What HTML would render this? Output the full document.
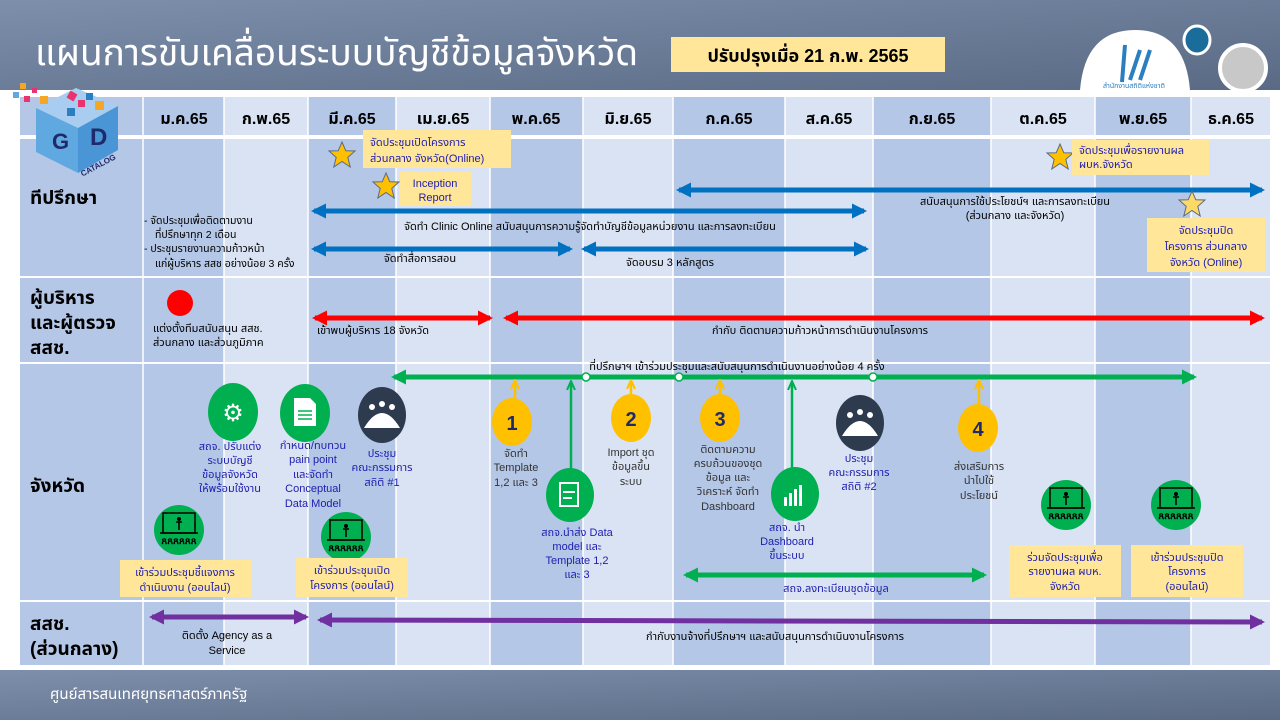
<!DOCTYPE html>
<html><head><meta charset="utf-8"><style>
body{margin:0;width:1280px;height:720px;overflow:hidden;font-family:"Liberation Sans","Noto Sans Thai","DejaVu Sans",sans-serif;}
svg text{font-family:"Liberation Sans","Noto Sans Thai","DejaVu Sans",sans-serif;}
</style></head><body>
<svg width="1280" height="720" xmlns="http://www.w3.org/2000/svg">
<defs>
<linearGradient id="hg" x1="0" y1="0" x2="1" y2="1"><stop offset="0" stop-color="#7d8fab"/><stop offset="1" stop-color="#5a6a85"/></linearGradient>
<marker id="mb" viewBox="0 0 10 10" refX="8" refY="5" markerWidth="3" markerHeight="3" orient="auto-start-reverse"><path d="M0,0L10,5L0,10z" fill="#0070c0"/></marker>
<marker id="mr" viewBox="0 0 10 10" refX="8" refY="5" markerWidth="3" markerHeight="3" orient="auto-start-reverse"><path d="M0,0L10,5L0,10z" fill="#ff0000"/></marker>
<marker id="mg" viewBox="0 0 10 10" refX="8" refY="5" markerWidth="3" markerHeight="3" orient="auto-start-reverse"><path d="M0,0L10,5L0,10z" fill="#00b050"/></marker>
<marker id="mp" viewBox="0 0 10 10" refX="8" refY="5" markerWidth="3" markerHeight="3" orient="auto-start-reverse"><path d="M0,0L10,5L0,10z" fill="#7030a0"/></marker>
<marker id="my" viewBox="0 0 10 10" refX="8" refY="5" markerWidth="4" markerHeight="4" orient="auto"><path d="M0,1L9,5L0,9" fill="none" stroke="#ffc000" stroke-width="2"/></marker>
<marker id="mgo" viewBox="0 0 10 10" refX="8" refY="5" markerWidth="4" markerHeight="4" orient="auto"><path d="M0,1L9,5L0,9" fill="none" stroke="#00b050" stroke-width="2"/></marker>
<g id="star"><path d="M0,-13 L3.8,-4.2 13,-4 5.8,2.4 8.2,12 0,6.5 -8.2,12 -5.8,2.4 -13,-4 -3.8,-4.2z" fill="#ffc000" stroke="#5a6a85" stroke-width="1"/></g>
<g id="meet"><circle r="25" fill="#00b050"/><rect x="-16" y="-17" width="32" height="20" fill="none" stroke="#000" stroke-width="1.5"/><line x1="-19" y1="3" x2="19" y2="3" stroke="#000" stroke-width="1.5"/><circle cx="0" cy="-11" r="2" fill="#000"/><path d="M-3,-8h6M0,-8v8" stroke="#000" stroke-width="1.5"/><text x="0" y="14" font-size="10" text-anchor="middle" fill="#000" font-weight="bold">ጸጸጸጸጸጸ</text></g>
</defs>
<rect width="1280" height="720" fill="#fff"/>
<rect width="1280" height="90" fill="url(#hg)"/>
<rect y="670" width="1280" height="50" fill="url(#hg)"/>
<text x="35" y="65" font-size="37" fill="#fff">แผนการขับเคลื่อนระบบบัญชีข้อมูลจังหวัด</text>
<rect x="671" y="37" width="274" height="35" fill="#ffe699"/>
<text x="808" y="62" font-size="18" font-weight="bold" text-anchor="middle" fill="#000">ปรับปรุงเมื่อ 21 ก.พ. 2565</text>
<path d="M1080,90 Q1085,30 1135,30 Q1185,30 1190,90z" fill="#fff"/>
<path d="M1125,45 L1122,82 M1140,50 L1130,80 M1150,50 L1140,80" stroke="#2a7fc0" stroke-width="4"/>
<text x="1134" y="88" font-size="7" fill="#2a7fc0" text-anchor="middle">สำนักงานสถิติแห่งชาติ</text>
<ellipse cx="1197" cy="40" rx="13" ry="14" fill="#1a6d9b" stroke="#fff" stroke-width="3"/>
<circle cx="1243" cy="68" r="23" fill="#c8c8c8" stroke="#fff" stroke-width="4"/>
<text x="50" y="699" font-size="15" fill="#fff">ศูนย์สารสนเทศยุทธศาสตร์ภาครัฐ</text>
<!-- grid -->
<g>
<rect x="20" y="97" width="123" height="568" fill="#b4c7e7"/>
<rect x="143" y="97" width="81" height="568" fill="#b4c7e7"/>
<rect x="224" y="97" width="84" height="568" fill="#dae3f3"/>
<rect x="308" y="97" width="88" height="568" fill="#b4c7e7"/>
<rect x="396" y="97" width="94" height="568" fill="#dae3f3"/>
<rect x="490" y="97" width="93" height="568" fill="#b4c7e7"/>
<rect x="583" y="97" width="90" height="568" fill="#dae3f3"/>
<rect x="673" y="97" width="112" height="568" fill="#b4c7e7"/>
<rect x="785" y="97" width="88" height="568" fill="#dae3f3"/>
<rect x="873" y="97" width="118" height="568" fill="#b4c7e7"/>
<rect x="991" y="97" width="104" height="568" fill="#dae3f3"/>
<rect x="1095" y="97" width="96" height="568" fill="#b4c7e7"/>
<rect x="1191" y="97" width="79" height="568" fill="#dae3f3"/>
<g stroke="#fff" stroke-width="1.5">
<line x1="143" y1="97" x2="143" y2="665"/><line x1="224" y1="97" x2="224" y2="665"/><line x1="308" y1="97" x2="308" y2="665"/><line x1="396" y1="97" x2="396" y2="665"/><line x1="490" y1="97" x2="490" y2="665"/><line x1="583" y1="97" x2="583" y2="665"/><line x1="673" y1="97" x2="673" y2="665"/><line x1="785" y1="97" x2="785" y2="665"/><line x1="873" y1="97" x2="873" y2="665"/><line x1="991" y1="97" x2="991" y2="665"/><line x1="1095" y1="97" x2="1095" y2="665"/><line x1="1191" y1="97" x2="1191" y2="665"/>
</g>
<rect x="20" y="135" width="1250" height="4" fill="#fff"/>
<rect x="20" y="276" width="1250" height="2" fill="#fff"/>
<rect x="20" y="362" width="1250" height="2" fill="#fff"/>
<rect x="20" y="600" width="1250" height="2" fill="#fff"/>
</g>
<g font-size="16" font-weight="bold" text-anchor="middle" fill="#000">
<text x="184" y="124">ม.ค.65</text><text x="266" y="124">ก.พ.65</text><text x="352" y="124">มี.ค.65</text><text x="443" y="124">เม.ย.65</text><text x="536" y="124">พ.ค.65</text><text x="628" y="124">มิ.ย.65</text><text x="729" y="124">ก.ค.65</text><text x="829" y="124">ส.ค.65</text><text x="932" y="124">ก.ย.65</text><text x="1043" y="124">ต.ค.65</text><text x="1143" y="124">พ.ย.65</text><text x="1231" y="124">ธ.ค.65</text>
</g>
<!-- GD cube -->
<g>
<polygon points="36,108 76,88 118,106 78,128" fill="#a9cdf0"/>
<polygon points="36,108 78,128 78,173 36,152" fill="#5fa8e0"/>
<polygon points="78,128 118,106 118,150 78,173" fill="#4a95d5"/>
<rect x="68" y="92" width="8" height="8" fill="#e8336e" transform="rotate(30 72 96)"/>
<rect x="86" y="93" width="7" height="7" fill="#2a7fc0"/><rect x="95" y="101" width="9" height="9" fill="#f5a623"/><rect x="78" y="100" width="7" height="7" fill="#e8336e"/><rect x="67" y="108" width="8" height="8" fill="#2a7fc0"/>
<rect x="20" y="83" width="6" height="6" fill="#f5a623"/><rect x="13" y="92" width="6" height="6" fill="#5fa8e0"/><rect x="24" y="96" width="6" height="6" fill="#e8336e"/><rect x="32" y="88" width="5" height="5" fill="#e8336e"/><rect x="40" y="96" width="8" height="8" fill="#f5a623"/>
<text x="52" y="149" font-size="22" font-weight="bold" fill="#1f2a6b">G</text>
<text x="90" y="145" font-size="24" font-weight="bold" fill="#1f2a6b">D</text>
<text x="98" y="168" font-size="8" font-weight="bold" fill="#1f2a6b" transform="rotate(-28 98 165)" text-anchor="middle">CATALOG</text>
</g>
<!-- row labels -->
<g font-size="19" font-weight="bold" fill="#000">
<text x="30" y="204">ทีปรึกษา</text>
<text x="30" y="304">ผู้บริหาร</text><text x="30" y="329">และผู้ตรวจ</text><text x="30" y="354">สสช.</text>
<text x="30" y="492">จังหวัด</text>
<text x="30" y="630">สสช.</text><text x="30" y="655">(ส่วนกลาง)</text>
</g>
<!-- row1 -->
<use href="#star" x="342" y="155"/>
<rect x="363" y="130" width="148" height="38" fill="#ffe699"/>
<g font-size="11" fill="#2020b0"><text x="370" y="146">จัดประชุมเปิดโครงการ</text><text x="370" y="162">ส่วนกลาง จังหวัด(Online)</text></g>
<use href="#star" x="386" y="186"/>
<rect x="400" y="172" width="71" height="34" fill="#ffe699"/>
<g font-size="11" fill="#2020b0" text-anchor="middle"><text x="435" y="187">Inception</text><text x="435" y="201">Report</text></g>
<g font-size="10.5" fill="#000">
<text x="144" y="224">-  จัดประชุมเพื่อติดตามงาน</text><text x="155" y="238">ที่ปรึกษาทุก 2 เดือน</text>
<text x="144" y="252">-  ประชุมรายงานความก้าวหน้า</text><text x="155" y="267">แก่ผู้บริหาร สสช อย่างน้อย 3 ครั้ง</text>
</g>
<g stroke-width="5" fill="none">
<line x1="314" y1="211" x2="864" y2="211" stroke="#0070c0" marker-start="url(#mb)" marker-end="url(#mb)"/>
<line x1="314" y1="249" x2="570" y2="249" stroke="#0070c0" marker-start="url(#mb)" marker-end="url(#mb)"/>
<line x1="584" y1="249" x2="866" y2="249" stroke="#0070c0" marker-start="url(#mb)" marker-end="url(#mb)"/>
<line x1="679" y1="190" x2="1262" y2="190" stroke="#0070c0" marker-start="url(#mb)" marker-end="url(#mb)"/>
<line x1="315" y1="318" x2="490" y2="318" stroke="#ff0000" marker-start="url(#mr)" marker-end="url(#mr)"/>
<line x1="506" y1="318" x2="1262" y2="318" stroke="#ff0000" marker-start="url(#mr)" marker-end="url(#mr)"/>
<line x1="394" y1="377" x2="1194" y2="377" stroke="#00b050" marker-start="url(#mg)" marker-end="url(#mg)"/>
<line x1="686" y1="575" x2="984" y2="575" stroke="#00b050" marker-start="url(#mg)" marker-end="url(#mg)"/>
<line x1="152" y1="617" x2="306" y2="617" stroke="#7030a0" marker-start="url(#mp)" marker-end="url(#mp)"/>
<line x1="320" y1="620" x2="1262" y2="622" stroke="#7030a0" marker-start="url(#mp)" marker-end="url(#mp)"/>
</g>
<g font-size="11" fill="#000" text-anchor="middle">
<text x="590" y="230">จัดทำ Clinic Online สนับสนุนการความรู้จัดทำบัญชีข้อมูลหน่วยงาน และการลงทะเบียน</text>
<text x="420" y="262">จัดทำสื่อการสอน</text>
<text x="670" y="266">จัดอบรม 3 หลักสูตร</text>
<text x="1015" y="205">สนับสนุนการใช้ประโยชน์ฯ และการลงทะเบียน</text>
<text x="1015" y="219">(ส่วนกลาง และจังหวัด)</text>
<text x="373" y="334">เข้าพบผู้บริหาร 18 จังหวัด</text>
<text x="820" y="334">กำกับ ติดตามความก้าวหน้าการดำเนินงานโครงการ</text>
<text x="737" y="370">ที่ปรึกษาฯ เข้าร่วมประชุมและสนับสนุนการดำเนินงานอย่างน้อย 4 ครั้ง</text>
<text x="227" y="639">ติดตั้ง Agency as a</text><text x="227" y="654">Service</text>
<text x="775" y="640">กำกับงานจ้างที่ปรึกษาฯ และสนับสนุนการดำเนินงานโครงการ</text>
</g>
<use href="#star" x="1060" y="157"/>
<rect x="1072" y="140" width="137" height="35" fill="#ffe699"/>
<g font-size="11" fill="#2020b0"><text x="1079" y="154">จัดประชุมเพื่อรายงานผล</text><text x="1079" y="168">ผบห.จังหวัด</text></g>
<g transform="translate(1192,204)"><path d="M0,-13 L3.8,-4.2 13,-4 5.8,2.4 8.2,12 0,6.5 -8.2,12 -5.8,2.4 -13,-4 -3.8,-4.2z" fill="#ffd966" stroke="#5a6a85"/></g>
<rect x="1147" y="218" width="118" height="54" fill="#ffe699"/>
<g font-size="11" fill="#2020b0" text-anchor="middle"><text x="1206" y="234">จัดประชุมปิด</text><text x="1206" y="250">โครงการ ส่วนกลาง</text><text x="1206" y="266">จังหวัด (Online)</text></g>
<!-- row2 -->
<circle cx="180" cy="303" r="13" fill="#ff0000"/>
<g font-size="11" fill="#000"><text x="153" y="332">แต่งตั้งทีมสนับสนุน สสช.</text><text x="153" y="346">ส่วนกลาง และส่วนภูมิภาค</text></g>
<!-- row3 -->
<g fill="#fff" stroke="#00b050" stroke-width="1.5"><circle cx="586" cy="377" r="4"/><circle cx="679" cy="377" r="4"/><circle cx="873" cy="377" r="4"/></g>
<g stroke="#ffc000" stroke-width="2.5" marker-end="url(#my)">
<line x1="515" y1="402" x2="515" y2="381"/><line x1="631" y1="398" x2="631" y2="381"/><line x1="720" y1="398" x2="720" y2="381"/><line x1="979" y1="408" x2="979" y2="381"/>
</g>
<g stroke="#00b050" stroke-width="2.5" marker-end="url(#mgo)">
<line x1="571" y1="472" x2="571" y2="382"/><line x1="792" y1="472" x2="792" y2="382"/>
</g>
<g font-size="20" font-weight="bold" fill="#1f2a6b" text-anchor="middle">
<ellipse cx="512" cy="422" rx="20" ry="24" fill="#ffc000"/><text x="512" y="430">1</text>
<ellipse cx="631" cy="418" rx="20" ry="24" fill="#ffc000"/><text x="631" y="426">2</text>
<ellipse cx="720" cy="418" rx="20" ry="24" fill="#ffc000"/><text x="720" y="426">3</text>
<ellipse cx="978" cy="428" rx="20" ry="24" fill="#ffc000"/><text x="978" y="436">4</text>
</g>
<ellipse cx="233" cy="412" rx="25" ry="29" fill="#00b050"/>
<text x="233" y="421" font-size="24" fill="#fff" text-anchor="middle">⚙</text>
<ellipse cx="305" cy="413" rx="25" ry="29" fill="#00b050"/>
<path d="M294,398h16l6,6v22h-22z" fill="#fff"/><g stroke="#00b050" stroke-width="1.5"><line x1="298" y1="411" x2="312" y2="411"/><line x1="298" y1="415" x2="312" y2="415"/><line x1="298" y1="419" x2="312" y2="419"/></g>
<ellipse cx="382" cy="415" rx="24" ry="28" fill="#2e3a4e"/>
<path d="M364,428 Q382,398 400,428z" fill="#fff"/><circle cx="372" cy="407" r="3" fill="#fff"/><circle cx="382" cy="404" r="3" fill="#fff"/><circle cx="392" cy="407" r="3" fill="#fff"/>
<ellipse cx="860" cy="423" rx="24" ry="28" fill="#2e3a4e"/>
<path d="M842,436 Q860,406 878,436z" fill="#fff"/><circle cx="850" cy="415" r="3" fill="#fff"/><circle cx="860" cy="412" r="3" fill="#fff"/><circle cx="870" cy="415" r="3" fill="#fff"/>
<ellipse cx="570" cy="495" rx="24" ry="27" fill="#00b050"/>
<rect x="560" y="483" width="18" height="23" fill="none" stroke="#fff" stroke-width="2"/><line x1="563" y1="492" x2="575" y2="492" stroke="#fff" stroke-width="2"/><line x1="563" y1="498" x2="572" y2="498" stroke="#fff" stroke-width="2"/>
<ellipse cx="795" cy="494" rx="24" ry="27" fill="#00b050"/>
<g fill="#fff"><rect x="784" y="497" width="3" height="9"/><rect x="789" y="493" width="3" height="13"/><rect x="794" y="489" width="3" height="17"/><rect x="799" y="485" width="3" height="21"/></g>
<use href="#meet" x="179" y="530"/><use href="#meet" x="346" y="537"/><use href="#meet" x="1066" y="505"/><use href="#meet" x="1176" y="505"/>
<g font-size="11" fill="#2020b0" text-anchor="middle">
<text x="230" y="450">สถจ. ปรับแต่ง</text><text x="230" y="464">ระบบบัญชี</text><text x="230" y="478">ข้อมูลจังหวัด</text><text x="230" y="492">ให้พร้อมใช้งาน</text>
<text x="313" y="449">กำหนด/ทบทวน</text><text x="313" y="463">pain point</text><text x="313" y="478">และจัดทำ</text><text x="313" y="492">Conceptual</text><text x="313" y="507">Data Model</text>
<text x="382" y="457">ประชุม</text><text x="382" y="471">คณะกรรมการ</text><text x="382" y="486">สถิติ #1</text>
<text x="577" y="536">สถจ.นำส่ง Data</text><text x="577" y="550">model และ</text><text x="577" y="564">Template 1,2</text><text x="577" y="578">และ 3</text>
<text x="787" y="531">สถจ. นำ</text><text x="787" y="545">Dashboard</text><text x="787" y="559">ขึ้นระบบ</text>
<text x="859" y="462">ประชุม</text><text x="859" y="476">คณะกรรมการ</text><text x="859" y="490">สถิติ #2</text>
<text x="836" y="592">สถจ.ลงทะเบียนชุดข้อมูล</text>
</g>
<g font-size="11" fill="#333" text-anchor="middle">
<text x="516" y="457">จัดทำ</text><text x="516" y="471">Template</text><text x="516" y="486">1,2 และ 3</text>
<text x="631" y="456">Import ชุด</text><text x="631" y="470">ข้อมูลขึ้น</text><text x="631" y="485">ระบบ</text>
<text x="728" y="453">ติดตามความ</text><text x="728" y="467">ครบถ้วนของชุด</text><text x="728" y="481">ข้อมูล และ</text><text x="728" y="495">วิเคราะห์ จัดทำ</text><text x="728" y="510">Dashboard</text>
<text x="979" y="470">ส่งเสริมการ</text><text x="979" y="484">นำไปใช้</text><text x="979" y="499">ประโยชน์</text>
</g>
<rect x="120" y="560" width="131" height="37" fill="#ffe699"/>
<rect x="296" y="558" width="112" height="39" fill="#ffe699"/>
<rect x="1009" y="545" width="112" height="52" fill="#ffe699"/>
<rect x="1131" y="545" width="112" height="52" fill="#ffe699"/>
<g font-size="11" fill="#2020b0" text-anchor="middle">
<text x="185" y="576">เข้าร่วมประชุมชี้แจงการ</text><text x="185" y="591">ดำเนินงาน (ออนไลน์)</text>
<text x="352" y="574">เข้าร่วมประชุมเปิด</text><text x="352" y="589">โครงการ (ออนไลน์)</text>
<text x="1065" y="561">ร่วมจัดประชุมเพื่อ</text><text x="1065" y="575">รายงานผล ผบห.</text><text x="1065" y="590">จังหวัด</text>
<text x="1187" y="561">เข้าร่วมประชุมปิด</text><text x="1187" y="575">โครงการ</text><text x="1187" y="590">(ออนไลน์)</text>
</g>
</svg>
</body></html>
